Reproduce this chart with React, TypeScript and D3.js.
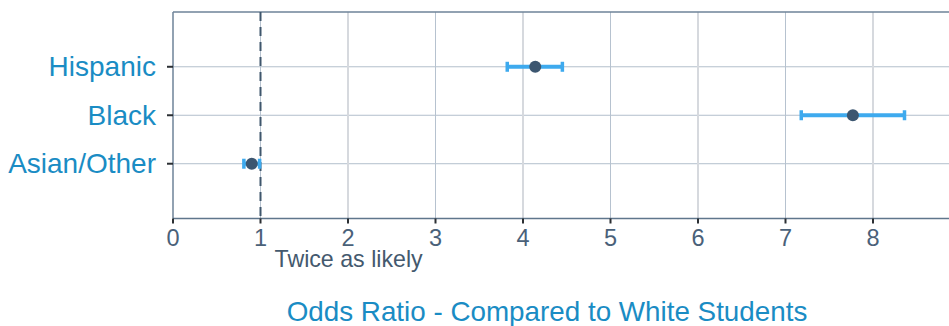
import React from "react";
import * as d3 from "d3";

// Odds ratios (with confidence intervals) by student group
const categories = ["Hispanic", "Black", "Asian/Other"];
const oddsRatio = [4.14, 7.77, 0.9];
const ciLower = [3.82, 7.18, 0.81];
const ciUpper = [4.45, 8.36, 0.99];
const xTicks = [0, 1, 2, 3, 4, 5, 6, 7, 8];
const referenceValue = 1;
const referenceLabel = "Twice as likely";
const axisTitle = "Odds Ratio - Compared to White Students";

const W = 949;
const H = 326;
const margin = { top: 12, right: 0, bottom: 107.5, left: 173 };
const FONT = "'Liberation Sans', Arial, Helvetica, sans-serif";

export default function App() {
  const plotBottom = H - margin.bottom;
  const x = d3.scaleLinear().domain([0, 9]).range([margin.left, margin.left + 9 * 87.5]);
  const y = d3
    .scalePoint<string>()
    .domain(categories)
    .range([margin.top, plotBottom])
    .padding(1.13);

  const rows = categories.map((c, i) => ({
    c,
    or: oddsRatio[i],
    lo: ciLower[i],
    hi: ciUpper[i],
  }));

  return (
    <svg
      width={W}
      height={H}
      style={{ position: "absolute", left: 0, top: 0, background: "#fff" }}
      fontFamily={FONT}
    >
      {/* category grid lines */}
      {categories.map((c) => (
        <line
          key={"hg" + c}
          x1={margin.left}
          x2={W}
          y1={y(c)}
          y2={y(c)}
          stroke="#b3bfcc"
          strokeWidth={1}
        />
      ))}
      {/* vertical grid lines: even values light, odd values thin bluish */}
      {xTicks
        .filter((t) => t > 0)
        .map((t) => (
          <line
            key={"vg" + t}
            x1={x(t)}
            x2={x(t)}
            y1={margin.top}
            y2={plotBottom}
            stroke={t % 2 === 0 ? "#d6d9de" : "#b6c2cf"}
            strokeWidth={t % 2 === 0 ? 2 : 1}
          />
        ))}
      {/* plot frame: top and left, plus bottom axis */}
      <line x1={margin.left} x2={W} y1={margin.top} y2={margin.top} stroke="#6e8398" strokeWidth={1.5} />
      <line x1={margin.left} x2={margin.left} y1={margin.top} y2={plotBottom} stroke="#6e8398" strokeWidth={1.5} />
      <line x1={margin.left} x2={W} y1={plotBottom} y2={plotBottom} stroke="#5f768c" strokeWidth={1.5} />

      {/* reference line */}
      <line
        x1={x(referenceValue)}
        x2={x(referenceValue)}
        y1={margin.top}
        y2={plotBottom}
        stroke="#3f566c"
        strokeWidth={2}
        strokeDasharray="9,6"
      />

      {/* x ticks and labels */}
      {xTicks.map((t) => (
        <g key={"xt" + t}>
          <line x1={x(t)} x2={x(t)} y1={plotBottom} y2={plotBottom + 5} stroke="#2b2f33" strokeWidth={2} />
          <text
            x={x(t)}
            y={plotBottom + 27.5}
            textAnchor="middle"
            fontSize={23.5}
            fill="#4a6179"
          >
            {t}
          </text>
        </g>
      ))}

      {/* y ticks and category labels */}
      {categories.map((c) => (
        <g key={"yt" + c}>
          <line
            x1={margin.left - 6}
            x2={margin.left}
            y1={y(c)}
            y2={y(c)}
            stroke="#2b2f33"
            strokeWidth={2}
          />
          <text
            x={margin.left - 17}
            y={(y(c) as number) + 9.5}
            textAnchor="end"
            fontSize={28}
            fill="#1a8cc4"
          >
            {c}
          </text>
        </g>
      ))}

      {/* confidence intervals and point estimates */}
      {rows.map((r) => {
        const cy = y(r.c) as number;
        return (
          <g key={"pt" + r.c}>
            <line x1={x(r.lo)} x2={x(r.hi)} y1={cy} y2={cy} stroke="#3eaaee" strokeWidth={4} />
            <line x1={x(r.lo)} x2={x(r.lo)} y1={cy - 5} y2={cy + 5} stroke="#3eaaee" strokeWidth={3.5} />
            <line x1={x(r.hi)} x2={x(r.hi)} y1={cy - 5} y2={cy + 5} stroke="#3eaaee" strokeWidth={3.5} />
            <circle cx={x(r.or)} cy={cy} r={6} fill="#3c5670" />
          </g>
        );
      })}

      {/* reference annotation */}
      <text
        x={x(referenceValue) + 14}
        y={plotBottom + 48.5}
        fontSize={23.2}
        fill="#44596e"
      >
        {referenceLabel}
      </text>

      {/* axis title */}
      <text x={547} y={320.5} textAnchor="middle" fontSize={27.8} fill="#1a8cc4">
        {axisTitle}
      </text>
    </svg>
  );
}
